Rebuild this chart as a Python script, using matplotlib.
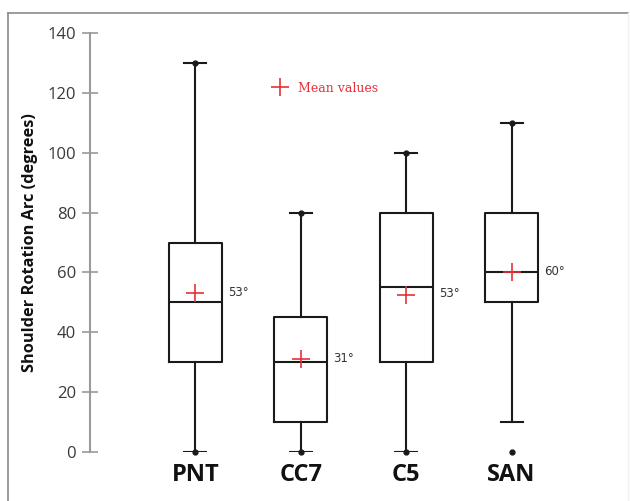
import matplotlib
matplotlib.use('Agg')
from matplotlib import pyplot as plt
from matplotlib.lines import Line2D

# box plot values (degrees)
groups = ['PNT', 'CC7', 'C5', 'SAN']
mins = [0, 0, 0, 0]
whis_lo = [0, 0, 0, 10]
q1 = [30, 10, 30, 50]
medians = [50, 30, 55, 60]
q3 = [70, 45, 80, 80]
maxs = [130, 80, 100, 110]
means = [53, 31, 52.5, 60]
mean_labels = ['53°', '31°', '53°', '60°']
yticks = [0, 20, 40, 60, 80, 100, 120, 140]

W, H = 630, 501
fig = plt.figure(figsize=(W / 100, H / 100), dpi=100)
fig.set_facecolor('white')

# grey frame round the picture (top + left strong, right very faint)
fig.add_artist(Line2D([8 / W, 8 / W], [0, 1 - 13 / H], transform=fig.transFigure,
                      color='#8a8a8a', linewidth=1.2))
fig.add_artist(Line2D([8 / W, 628 / W], [1 - 13 / H, 1 - 13 / H], transform=fig.transFigure,
                      color='#8a8a8a', linewidth=1.2))
fig.add_artist(Line2D([628 / W, 628 / W], [0, 1 - 13 / H], transform=fig.transFigure,
                      color='#f0f0f0', linewidth=1.0))

ax = fig.add_axes([90 / W, 49 / H, 527 / W, 419 / H])
ax.set_facecolor('none')

stats = []
for i, name in enumerate(groups):
    stats.append({
        'label': name,
        'whislo': whis_lo[i],
        'q1': q1[i],
        'med': medians[i],
        'q3': q3[i],
        'whishi': maxs[i],
        'fliers': [],
    })

positions = list(range(1, len(groups) + 1))
line = dict(color='#1a1a1a', linewidth=1.5)
ax.bxp(stats, positions=positions, widths=0.5, capwidths=0.21,
       showfliers=False, patch_artist=False,
       boxprops=line, whiskerprops=line, capprops=line,
       medianprops=line)

# small dots at the min / max values
ax.plot(positions, mins, 'o', color='#1a1a1a', markersize=3.5, linestyle='none', clip_on=False)
ax.plot(positions, maxs, 'o', color='#1a1a1a', markersize=3.5, linestyle='none', clip_on=False)

# mean markers
ax.plot(positions, means, '+', color='#e8303a', markersize=13, mew=1.2, linestyle='none', zorder=5)
for p, m, lab in zip(positions, means, mean_labels):
    ax.text(p + 0.31, m + 0.3, lab, fontsize=8.5, color='#333333',
            va='center', ha='left', family='DejaVu Sans')

# legend-like note
ax.plot([1.8], [121.8], '+', color='#e8303a', markersize=13, mew=1.2, clip_on=False)
ax.text(1.97, 121.6, 'Mean values', color='#e8303a', fontsize=9,
        family='DejaVu Serif', va='center', ha='left')

ax.set_xlim(0, 5)
ax.set_ylim(0, 140)
ax.set_yticks(yticks)
ax.set_xticks(positions)
ax.set_xticklabels(groups, fontsize=17, fontweight='bold', family='Open Sans', color='#111111')
ax.tick_params(axis='x', length=0, pad=8)
ax.tick_params(axis='y', direction='inout', length=12, width=1.2, color='#9a9a9a',
               labelsize=12, labelcolor='#3a3a3a', pad=4)
for lab in ax.get_yticklabels():
    lab.set_family('Open Sans')

for side in ['top', 'right', 'bottom']:
    ax.spines[side].set_visible(False)
ax.spines['left'].set_color('#9a9a9a')
ax.spines['left'].set_linewidth(1.5)

ax.set_ylabel('Shoulder Rotation Arc (degrees)', fontsize=11.8, fontweight='bold',
              family='Open Sans', color='#111111', labelpad=7)

fig.savefig('out.png', dpi=100, facecolor='white')
